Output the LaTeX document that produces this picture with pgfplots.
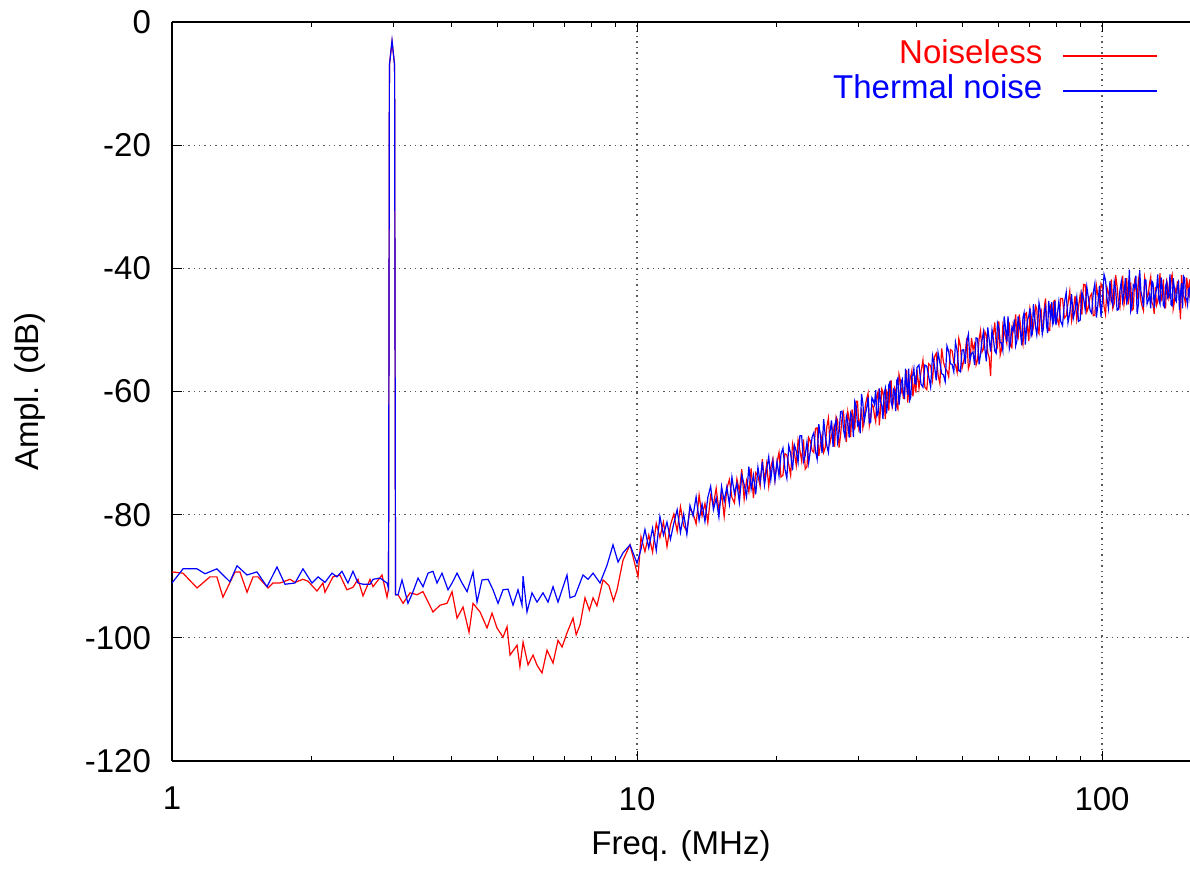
\documentclass[border=0pt]{standalone}
\usepackage{pgfplots}
\pgfplotsset{compat=1.18}
\usepackage{fontspec}
\setmainfont{Liberation Sans}
\begin{document}
\begin{tikzpicture}[font=\fontsize{16.5}{19.8}\selectfont]
\useasboundingbox (0,0) rectangle (595pt,435pt);
\begin{axis}[
  at={(86pt,54.5pt)}, anchor=south west,
  scale only axis, width=509pt, height=369.5pt,
  xmode=log, log basis x=10,
  xmin=1, xmax=154.6, ymin=-120, ymax=0,
  axis x line*=box, axis y line*=left,
  axis line style={line width=1pt},
  tick align=inside,
  xtick={1,10,100}, xticklabels={1,10,100},
  minor xtick={2,3,4,5,6,7,8,9,20,30,40,50,60,70,80,90},
  ytick={-120,-100,-80,-60,-40,-20,0},
  yticklabels={-120,-100,-80,-60,-40,-20,0},
  major tick length=5pt, minor tick length=2.5pt,
  every tick/.style={black, line width=0.5pt},
  grid=major,
  major grid style={black!65, line width=0.6pt, dash pattern=on 0.7pt off 2pt},
  yticklabel style={xshift=-7pt},
  xticklabel style={yshift=-9.5pt},
  xlabel={Freq. (MHz)}, ylabel={Ampl. (dB)},
  xlabel style={at={(axis description cs:0.5,0)}, anchor=center, yshift=-42.5pt},
  ylabel style={at={(axis description cs:0,0.5)}, anchor=center, yshift=71pt},
  legend cell align=right,
  legend plot pos=right,
  legend image code/.code={\draw[#1] (0pt,0pt) -- (47pt,0pt);},
  legend style={at={(rel axis cs:1,1)}, anchor=north east, xshift=-16pt, yshift=-8pt,
    draw=none, fill=none, inner sep=0pt, column sep=9pt, row sep=0pt,
    nodes={inner sep=1pt, text height=11.5pt, text depth=4pt}},
]
\addlegendimage{draw=red, line width=0.65pt}
\addlegendentry{\textcolor{red}{Noiseless}}
\addlegendimage{draw=blue, line width=0.65pt}
\addlegendentry{\textcolor{blue}{Thermal noise}}
\addplot[color=red, line width=0.6pt, forget plot] table {
1.000 -89.3
1.056 -89.5
1.132 -91.9
1.207 -90.1
1.249 -90.1
1.287 -93.4
1.366 -89.3
1.400 -89.3
1.450 -92.6
1.494 -90.1
1.531 -90.1
1.609 -91.9
1.649 -91.1
1.707 -91.1
1.794 -90.5
1.839 -91.0
1.913 -90.5
1.961 -90.8
2.050 -92.4
2.112 -91.1
2.133 -92.6
2.219 -90.1
2.297 -89.8
2.378 -92.2
2.450 -91.8
2.512 -90.5
2.575 -93.2
2.666 -90.5
2.706 -91.7
2.829 -89.8
2.900 -93.4
2.922 -92.0
2.935 -7.0
2.973 -3.2
3.011 -7.0
3.025 -93.0
3.063 -93.0
3.140 -94.4
3.250 -92.7
3.365 -93.0
3.466 -92.5
3.642 -95.8
3.771 -94.7
3.904 -94.4
4.002 -92.5
4.102 -96.8
4.226 -95.0
4.353 -99.1
4.440 -94.4
4.597 -95.8
4.759 -98.4
4.878 -96.0
5.000 -98.4
5.151 -99.9
5.254 -98.2
5.333 -102.8
5.521 -101.2
5.600 -104.7
5.688 -100.7
5.830 -104.4
5.976 -102.8
6.100 -104.5
6.248 -105.7
6.405 -102.0
6.598 -104.1
6.763 -100.4
6.900 -101.5
7.071 -99.2
7.285 -96.8
7.400 -99.5
7.542 -97.9
7.731 -93.5
7.900 -95.5
8.044 -93.5
8.200 -94.8
8.452 -90.6
8.700 -91.5
8.900 -94.0
9.058 -92.2
9.331 -87.4
9.660 -84.9
10.05 -90.1
10.2 -83.6
10.4 -86.0
10.6 -83.3
10.8 -86.1
11.0 -81.4
11.2 -83.7
11.4 -81.2
11.6 -85.2
11.8 -81.7
12.0 -79.9
12.2 -82.7
12.4 -78.7
12.6 -81.8
12.8 -82.7
13.0 -79.0
13.2 -79.8
13.4 -81.5
13.6 -76.8
13.8 -80.2
14.0 -78.2
14.2 -81.3
14.4 -76.9
14.6 -78.4
14.8 -75.7
15.0 -79.3
15.2 -76.5
15.4 -80.3
15.6 -75.8
15.8 -74.3
16.0 -77.2
16.2 -78.1
16.4 -74.2
16.6 -76.2
16.8 -72.6
17.0 -77.5
17.2 -74.5
17.4 -76.3
17.6 -72.5
17.8 -77.3
18.0 -73.2
18.2 -73.7
18.4 -75.4
18.6 -71.0
18.8 -74.5
19.0 -71.8
19.2 -75.4
19.4 -72.3
19.6 -70.9
19.8 -74.4
20.0 -71.5
20.2 -69.9
20.4 -73.9
20.6 -73.6
20.8 -70.1
21.0 -70.3
21.2 -71.9
21.4 -73.6
21.6 -68.5
21.8 -70.0
22.0 -72.0
22.2 -67.9
22.4 -69.5
22.6 -71.3
22.8 -67.8
23.0 -72.6
23.2 -72.2
23.4 -67.5
23.6 -68.1
23.8 -69.6
24.0 -69.9
24.2 -66.0
24.4 -65.9
24.6 -70.5
24.8 -68.6
25.0 -67.1
25.2 -69.9
25.4 -69.1
25.6 -65.7
25.8 -64.3
26.0 -68.4
26.2 -67.2
26.4 -65.9
26.6 -69.0
26.8 -64.1
27.0 -64.7
27.2 -69.1
27.4 -67.1
27.6 -64.3
27.8 -63.4
28.0 -66.1
28.2 -68.2
28.4 -63.3
28.6 -64.6
28.8 -67.4
29.0 -62.9
29.2 -64.4
29.4 -66.2
29.6 -61.6
29.8 -61.6
30.0 -65.9
30.2 -64.8
30.4 -62.8
30.6 -65.9
30.8 -64.5
31.0 -62.1
31.2 -61.1
31.4 -60.3
31.6 -65.5
31.8 -64.3
32.0 -62.1
32.2 -62.4
32.4 -63.9
32.6 -64.9
32.8 -60.6
33.0 -60.0
33.2 -65.5
33.4 -62.8
33.6 -59.6
33.8 -60.1
34.0 -61.7
34.2 -64.5
34.4 -59.9
34.6 -60.3
34.8 -63.1
35.0 -58.4
35.2 -58.3
35.4 -62.5
35.6 -61.6
35.8 -59.4
36.0 -59.9
36.2 -62.5
36.4 -62.9
36.6 -57.2
36.8 -58.0
37.0 -60.1
37.2 -59.5
37.4 -61.1
37.6 -61.1
37.8 -57.6
38.0 -56.5
38.2 -61.8
38.4 -59.8
38.6 -58.3
38.8 -57.5
39.0 -56.6
39.2 -60.8
39.4 -59.6
39.6 -57.4
39.8 -60.2
40.0 -56.4
40.4 -59.5
40.8 -56.8
41.2 -54.9
41.6 -59.3
42.0 -59.7
42.4 -55.5
42.8 -55.8
43.2 -58.1
43.6 -54.4
44.0 -53.8
44.4 -57.3
44.8 -58.7
45.2 -53.0
45.6 -55.2
46.0 -56.2
46.4 -56.6
46.8 -57.6
47.2 -53.2
47.6 -53.4
48.0 -55.3
48.4 -55.7
48.8 -56.9
49.2 -51.4
49.6 -52.6
50.0 -56.2
50.4 -55.1
50.8 -53.6
51.2 -51.3
51.6 -56.3
52.0 -55.4
52.4 -51.3
52.8 -53.2
53.2 -52.3
53.6 -55.7
54.0 -54.9
54.4 -51.5
54.8 -50.1
55.2 -53.6
55.6 -53.1
56.0 -50.3
56.4 -50.9
56.8 -53.7
57.2 -54.5
57.6 -57.5
58.0 -51.2
58.4 -50.7
58.8 -48.8
59.2 -52.2
59.6 -52.8
60.0 -48.6
60.4 -54.1
60.8 -53.2
61.2 -49.3
61.6 -50.3
62.0 -51.1
62.4 -52.2
62.8 -48.4
63.2 -49.0
63.6 -52.6
64.0 -52.9
64.4 -49.1
64.8 -49.8
65.2 -47.5
65.6 -51.1
66.0 -51.4
66.4 -47.5
66.8 -49.4
67.2 -51.5
67.6 -52.4
68.0 -49.6
68.4 -47.4
68.8 -47.2
69.2 -49.9
69.6 -51.8
70.0 -46.6
70.4 -47.7
70.8 -50.5
71.2 -49.5
71.6 -48.1
72.0 -46.1
72.4 -46.5
72.8 -50.1
73.2 -50.6
73.6 -47.4
74.0 -46.9
74.4 -50.3
74.8 -49.0
75.2 -46.2
75.6 -44.9
76.0 -48.4
76.4 -49.2
76.8 -50.1
77.2 -50.1
77.6 -46.1
78.0 -46.4
78.4 -48.7
78.8 -45.3
79.2 -45.2
79.6 -47.8
80.0 -48.1
80.75 -49.2
81.5 -44.9
82.25 -44.9
83.0 -48.1
83.75 -47.7
84.5 -45.7
85.25 -43.7
86.0 -48.5
86.75 -46.8
87.5 -44.5
88.25 -48.3
89.0 -46.3
89.75 -44.3
90.5 -47.5
91.25 -42.6
92.0 -42.7
92.75 -47.1
93.5 -46.3
94.25 -44.6
95.0 -44.1
95.75 -47.7
96.5 -47.6
97.25 -42.8
98.0 -44.4
98.75 -45.7
99.5 -42.5
100.25 -43.1
101.0 -46.2
101.75 -47.5
102.5 -43.1
103.25 -44.0
104.0 -45.2
104.75 -41.8
105.5 -46.5
106.25 -45.7
107.0 -41.1
107.75 -43.0
108.5 -45.6
109.25 -46.4
110.0 -43.5
110.75 -41.2
111.5 -45.9
112.25 -44.5
113.0 -41.6
113.75 -45.9
114.5 -44.3
115.25 -42.3
116.0 -46.8
116.75 -46.6
117.5 -42.2
118.25 -43.2
119.0 -45.0
119.75 -41.8
120.5 -43.1
121.25 -45.3
122.0 -46.2
122.75 -46.9
123.5 -41.5
124.25 -42.6
125.0 -44.7
125.75 -44.2
126.5 -42.5
127.25 -41.4
128.0 -45.5
128.75 -46.0
129.5 -47.4
130.25 -43.0
131.0 -46.0
131.75 -45.4
132.5 -43.7
133.25 -40.8
134.0 -45.2
134.75 -44.7
135.5 -41.8
136.25 -46.4
137.0 -46.4
137.75 -42.1
138.5 -42.8
139.25 -44.9
140.0 -44.3
140.75 -41.6
141.5 -41.0
142.25 -46.6
143.0 -45.6
143.75 -43.4
144.5 -43.9
145.25 -42.2
146.0 -42.1
146.75 -45.5
147.5 -48.3
148.25 -41.1
149.0 -43.0
149.75 -44.4
150.5 -45.0
151.25 -45.8
152.0 -41.5
152.75 -42.6
153.5 -44.7
154.25 -41.8
155.0 -45.5
};
\addplot[color=blue, line width=0.6pt, forget plot] table {
1.000 -91.1
1.056 -88.8
1.132 -88.8
1.178 -89.6
1.249 -88.8
1.332 -90.9
1.380 -88.3
1.450 -89.8
1.523 -89.3
1.601 -91.7
1.682 -88.5
1.750 -91.3
1.839 -91.1
1.913 -88.8
2.000 -91.1
2.061 -90.1
2.133 -91.0
2.208 -89.5
2.263 -90.1
2.320 -89.2
2.390 -91.1
2.450 -89.2
2.512 -91.1
2.575 -91.3
2.666 -91.3
2.706 -90.5
2.801 -90.3
2.900 -91.1
2.922 -92.0
2.935 -7.0
2.973 -3.0
3.011 -7.0
3.025 -93.0
3.063 -93.0
3.124 -90.6
3.217 -94.4
3.299 -92.5
3.382 -90.3
3.466 -91.7
3.553 -89.5
3.642 -89.2
3.715 -91.1
3.808 -89.5
3.923 -92.2
4.002 -91.1
4.102 -89.5
4.205 -91.1
4.311 -92.5
4.440 -89.3
4.529 -94.2
4.642 -90.6
4.783 -90.5
4.902 -92.2
5.025 -94.4
5.151 -92.2
5.280 -92.1
5.412 -94.7
5.548 -92.2
5.658 -94.7
5.688 -90.0
5.800 -95.8
5.946 -92.7
6.096 -94.2
6.279 -92.7
6.437 -94.2
6.598 -91.7
6.763 -94.2
7.071 -89.8
7.178 -93.5
7.356 -93.2
7.655 -89.8
7.847 -90.5
8.044 -89.5
8.328 -91.1
8.622 -88.2
8.880 -84.9
9.104 -87.7
9.331 -86.2
9.660 -84.9
10.00 -87.9
10.2 -85.6
10.4 -82.4
10.6 -85.4
10.8 -82.2
11.0 -85.8
11.2 -80.3
11.4 -83.3
11.6 -81.2
11.8 -84.0
12.0 -81.4
12.2 -79.2
12.4 -82.9
12.6 -79.9
12.8 -83.2
13.0 -78.5
13.2 -80.2
13.4 -77.1
13.6 -80.9
13.8 -78.3
14.0 -81.1
14.2 -77.2
14.4 -75.4
14.6 -79.2
14.8 -77.3
15.0 -80.4
15.2 -75.4
15.4 -77.8
15.6 -75.5
15.8 -78.3
16.0 -73.9
16.2 -76.6
16.4 -74.9
16.6 -78.0
16.8 -73.6
17.0 -75.1
17.2 -77.1
17.4 -72.2
17.6 -75.8
17.8 -73.6
18.0 -76.7
18.2 -72.3
18.4 -74.7
18.6 -71.4
18.8 -75.2
19.0 -72.7
19.2 -70.6
19.4 -74.3
19.6 -71.3
19.8 -74.5
20.0 -71.4
20.2 -73.7
20.4 -70.2
20.6 -69.2
20.8 -72.6
21.0 -74.1
21.2 -68.8
21.4 -70.1
21.6 -72.8
21.8 -68.7
22.0 -69.7
22.2 -71.5
22.4 -67.2
22.6 -67.2
22.8 -71.4
23.0 -70.4
23.2 -68.2
23.4 -71.6
23.6 -69.5
23.8 -67.4
24.0 -66.7
24.2 -69.7
24.4 -71.0
24.6 -65.3
24.8 -67.2
25.0 -70.0
25.2 -64.5
25.4 -67.2
25.6 -68.8
25.8 -69.9
26.0 -66.6
26.2 -64.7
26.4 -69.0
26.6 -65.6
26.8 -64.6
27.0 -68.2
27.2 -66.7
27.4 -63.3
27.6 -63.2
27.8 -66.2
28.0 -67.4
28.2 -64.0
28.4 -65.0
28.6 -67.5
28.8 -63.5
29.0 -64.1
29.2 -67.4
29.4 -61.6
29.6 -62.4
29.8 -65.5
30.0 -65.0
30.2 -66.8
30.4 -60.4
30.6 -61.9
30.8 -64.9
31.0 -63.6
31.2 -62.6
31.4 -60.9
31.6 -65.1
31.8 -65.0
32.0 -61.0
32.2 -61.4
32.4 -62.1
32.6 -59.8
32.8 -64.0
33.0 -63.6
33.2 -59.5
33.4 -61.6
33.6 -62.2
33.8 -64.5
34.0 -60.3
34.2 -59.5
34.4 -63.6
34.6 -61.9
34.8 -58.9
35.0 -58.5
35.2 -61.8
35.4 -62.4
35.6 -59.6
35.8 -59.8
36.0 -63.2
36.2 -58.2
36.4 -57.8
36.6 -62.2
36.8 -60.5
37.0 -58.4
37.2 -58.0
37.4 -60.4
37.6 -60.9
37.8 -56.3
38.0 -58.9
38.2 -60.5
38.4 -56.3
38.6 -61.4
38.8 -60.9
39.0 -57.5
39.2 -57.4
39.4 -56.3
39.6 -58.7
39.8 -58.8
40.0 -56.1
40.4 -55.7
40.8 -58.8
41.2 -59.3
41.6 -55.7
42.0 -55.9
42.4 -57.6
42.8 -59.3
43.2 -54.2
43.6 -55.7
44.0 -58.2
44.4 -53.7
44.8 -55.3
45.2 -57.1
45.6 -57.3
46.0 -58.4
46.4 -52.6
46.8 -53.5
47.2 -55.5
47.6 -55.6
48.0 -56.8
48.4 -52.0
48.8 -53.4
49.2 -56.6
49.6 -56.8
50.0 -53.3
50.4 -53.2
50.8 -55.5
51.2 -51.8
51.6 -50.7
52.0 -54.9
52.4 -53.8
52.8 -53.6
53.2 -55.7
53.6 -51.3
54.0 -51.4
54.4 -55.6
54.8 -53.9
55.2 -51.7
55.6 -50.3
56.0 -53.2
56.4 -55.1
56.8 -49.6
57.2 -51.6
57.6 -53.5
58.0 -50.0
58.4 -51.5
58.8 -53.4
59.2 -53.8
59.6 -48.9
60.0 -49.7
60.4 -52.1
60.8 -52.1
61.2 -53.3
61.6 -47.8
62.0 -49.6
62.4 -51.9
62.8 -47.8
63.2 -53.0
63.6 -51.9
64.0 -49.6
64.4 -50.1
64.8 -48.3
65.2 -52.6
65.6 -51.8
66.0 -47.8
66.4 -49.3
66.8 -50.6
67.2 -52.5
67.6 -48.0
68.0 -47.2
68.4 -52.4
68.8 -49.8
69.2 -48.3
69.6 -47.7
70.0 -46.5
70.4 -51.0
70.8 -50.6
71.2 -45.8
71.6 -47.7
72.0 -49.6
72.4 -50.8
72.8 -48.7
73.2 -45.6
73.6 -46.7
74.0 -48.6
74.4 -50.7
74.8 -49.7
75.2 -46.9
75.6 -46.2
76.0 -49.3
76.4 -50.5
76.8 -45.3
77.2 -47.0
77.6 -48.1
78.0 -45.5
78.4 -49.1
78.8 -48.6
79.2 -45.3
79.6 -49.2
80.0 -48.0
80.75 -45.4
81.5 -48.6
82.25 -49.3
83.0 -45.6
83.75 -43.9
84.5 -48.8
85.25 -47.2
86.0 -44.2
86.75 -48.1
87.5 -46.8
88.25 -44.7
89.0 -48.6
89.75 -48.4
90.5 -43.9
91.25 -44.8
92.0 -46.7
92.75 -43.0
93.5 -44.9
94.25 -46.8
95.0 -47.3
95.75 -44.0
96.5 -42.5
97.25 -48.0
98.0 -45.8
98.75 -42.8
99.5 -47.9
100.25 -45.0
101.0 -41.0
101.75 -41.9
102.5 -44.9
103.25 -46.5
104.0 -42.1
104.75 -45.2
105.5 -46.0
106.25 -42.2
107.0 -43.5
107.75 -46.8
108.5 -46.7
109.25 -43.6
110.0 -42.2
110.75 -45.4
111.5 -44.2
112.25 -41.6
113.0 -45.5
113.75 -44.7
114.5 -40.2
115.25 -46.9
116.0 -46.0
116.75 -42.7
117.5 -43.1
118.25 -41.2
119.0 -47.4
119.75 -45.8
120.5 -40.3
121.25 -43.8
122.0 -44.7
122.75 -46.3
123.5 -41.9
124.25 -41.9
125.0 -45.8
125.75 -45.2
126.5 -44.3
127.25 -46.5
128.0 -42.1
128.75 -42.4
129.5 -46.4
130.25 -44.2
131.0 -43.4
131.75 -41.0
132.5 -45.1
133.25 -45.8
134.0 -41.5
134.75 -43.1
135.5 -46.0
136.25 -46.3
137.0 -42.9
137.75 -42.2
138.5 -44.8
139.25 -44.5
140.0 -41.0
140.75 -45.9
141.5 -46.1
142.25 -41.6
143.0 -43.1
143.75 -45.1
144.5 -45.4
145.25 -42.9
146.0 -42.3
146.75 -46.8
147.5 -44.1
148.25 -42.4
149.0 -46.5
149.75 -41.3
150.5 -41.6
151.25 -44.9
152.0 -44.9
152.75 -45.9
153.5 -43.4
154.25 -43.2
155.0 -45.8
};
\end{axis}
\end{tikzpicture}
\end{document}
